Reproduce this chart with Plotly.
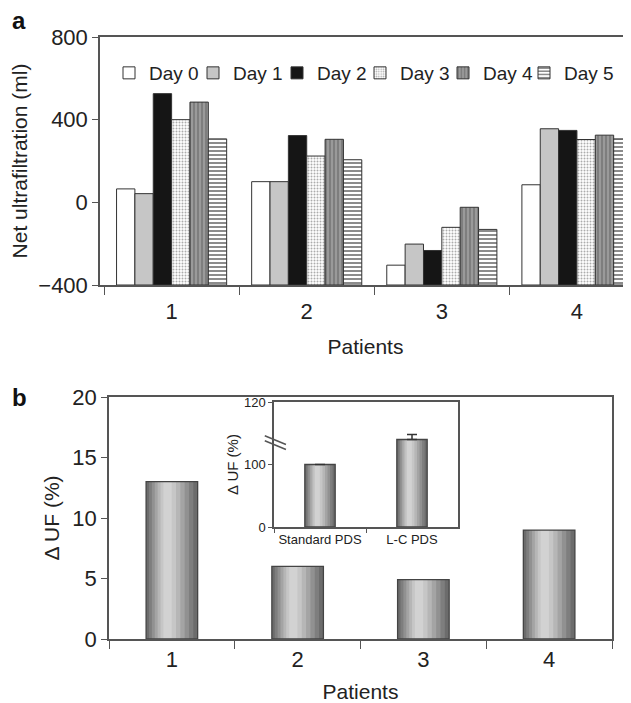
import plotly.graph_objects as go

# ---------------- data ----------------
patients = ["1", "2", "3", "4"]
day_names = ["Day 0", "Day 1", "Day 2", "Day 3", "Day 4", "Day 5"]
day0 = [65, 100, -304, 85]
day1 = [42, 100, -202, 356]
day2 = [526, 323, -233, 348]
day3 = [400, 224, -121, 304]
day4 = [485, 305, -24, 325]
day5 = [307, 206, -131, 307]
y_ticks_a = [-400, 0, 400, 800]

delta_uf = [13, 6, 4.9, 9]
y_ticks_b = [0, 5, 10, 15, 20]

inset_cats = ["Standard PDS", "L-C PDS"]
inset_vals = [100, 108]
inset_err = [0, 1.6]
inset_tickvals_real = [0, 100, 120]

# ---------------- styles ----------------
FONT = "Liberation Sans, Arial, sans-serif"
TXT = "#222222"
AX = "#555555"

day_series = [day0, day1, day2, day3, day4, day5]
day_styles = [
    dict(color="#ffffff", pattern=None),
    dict(color="#c6c6c6", pattern=None),
    dict(color="#151515", pattern=None),
    dict(color="#ffffff", pattern=dict(shape=".", fgcolor="#5a5a5a", bgcolor="#ffffff", size=3, solidity=0.35)),
    dict(color="#8c8c8c", pattern=dict(shape="|", fgcolor="#4a4a4a", bgcolor="#9a9a9a", size=4, solidity=0.35)),
    dict(color="#ffffff", pattern=dict(shape="-", fgcolor="#1a1a1a", bgcolor="#ffffff", size=4, solidity=0.5)),
]
# each legend entry sits in its own legend box (tight, unclipped spacing)
legend_ids = ["legend", "legend2", "legend3", "legend4", "legend5", "legend6"]
legend_x_px = [101, 185, 269, 352, 435, 516]

A_BASE = y_ticks_a[0]  # bars in panel a rise from the bottom of the axis


def brk(v):
    """broken-axis transform for the inset: 0-100 linear, 100-120 expanded"""
    return v if v <= 100 else 100 + (v - 100) * 5


fig = go.Figure()

# ---- panel a: grouped bars ----
for name, vals, st, lg in zip(day_names, day_series, day_styles, legend_ids):
    marker = dict(color=st["color"], line=dict(color="#333333", width=1))
    if st["pattern"] is not None:
        marker["pattern"] = st["pattern"]
    fig.add_trace(go.Bar(x=patients, y=[v - A_BASE for v in vals], base=A_BASE,
                         name=name, marker=marker, customdata=vals, legend=lg,
                         hovertemplate="%{customdata}<extra>" + name + "</extra>",
                         xaxis="x", yaxis="y", showlegend=True))

# ---- panel b: shaded (cylindrical) bars built from layered bars ----
grad_colors = ["#6c6c6c", "#7e7e7e", "#919191", "#a4a4a4", "#b6b6b6", "#c6c6c6", "#d2d2d2"]
grad_fracs = [1.0, 0.86, 0.72, 0.58, 0.44, 0.30, 0.16]


def shaded_bars(xs, ys, full_w, xa, ya, err=None):
    for c, f in zip(grad_colors, grad_fracs):
        w = full_w * f
        shift = -0.10 * full_w * (1 - f)
        fig.add_trace(go.Bar(x=xs, y=ys, width=w, offset=-w / 2 + shift,
                             marker=dict(color=c, line=dict(width=0)),
                             xaxis=xa, yaxis=ya, showlegend=False, hoverinfo="skip"))
    outline = go.Bar(x=xs, y=ys, width=full_w, offset=-full_w / 2,
                     marker=dict(color="rgba(0,0,0,0)", line=dict(color="#444444", width=1.3)),
                     xaxis=xa, yaxis=ya, showlegend=False)
    if err is not None:
        outline.error_y = dict(type="data", symmetric=False, array=err,
                               arrayminus=[0] * len(err), color="#333333",
                               thickness=1.5, width=5)
    fig.add_trace(outline)


shaded_bars(patients, delta_uf, 0.41, "x2", "y2")

inset_disp = [brk(v) for v in inset_vals]
inset_err_disp = [brk(v + e) - brk(v) for v, e in zip(inset_vals, inset_err)]
shaded_bars(inset_cats, inset_disp, 0.33, "x3", "y3", err=inset_err_disp)

# ---------------- layout ----------------
# the page body keeps an 8px margin, so the figure is 8px smaller on each
# visible side and screen positions are converted accordingly
OFF = 8
W, H = 631 - OFF, 703 - OFF


def px_x(p):
    return min(1.0, (p - OFF) / W)


def px_y(p):
    return 1 - (p - OFF) / H


axis_common = dict(showline=True, linecolor=AX, linewidth=1.5, mirror=True,
                   showgrid=False, zeroline=False, automargin=False,
                   tickcolor=AX, ticks="outside")

legend_common = dict(orientation="h", y=px_y(73), xanchor="left", yanchor="middle",
                     font=dict(size=19, family=FONT, color=TXT), bgcolor="rgba(0,0,0,0)",
                     itemwidth=30, traceorder="normal")

legend_layout = {lg: dict(legend_common, x=xp / W) for lg, xp in zip(legend_ids, legend_x_px)}

fig.update_layout(
    width=W, height=H,
    margin=dict(l=0, r=0, t=0, b=0),
    paper_bgcolor="white", plot_bgcolor="white",
    font=dict(family=FONT, color=TXT),
    barmode="group", bargap=0.185, bargroupgap=0,
    showlegend=True,
    **legend_layout,
    xaxis=dict(axis_common, domain=[px_x(100), 1.0], anchor="y", type="category",
               range=[-0.53, 3.4], tickson="boundaries", ticklen=8,
               ticklabelstandoff=6,
               tickfont=dict(size=22),
               title=dict(text="Patients", font=dict(size=21), standoff=16)),
    yaxis=dict(axis_common, domain=[px_y(285), px_y(37)], anchor="x",
               range=[y_ticks_a[0], y_ticks_a[-1]], tickvals=y_ticks_a,
               ticktext=[str(v).replace("-", "\u2212") for v in y_ticks_a], ticklen=6,
               tickfont=dict(size=22),
               title=dict(text="Net ultrafiltration (ml)", font=dict(size=21), standoff=6)),
    xaxis2=dict(axis_common, domain=[px_x(109), px_x(612)], anchor="y2", type="category",
                range=[-0.5, 3.5], tickson="boundaries", ticklen=8,
                tickfont=dict(size=22),
                title=dict(text="Patients", font=dict(size=21), standoff=15)),
    yaxis2=dict(axis_common, domain=[px_y(639), px_y(397)], anchor="x2",
                range=[y_ticks_b[0], y_ticks_b[-1]], tickvals=y_ticks_b, ticklen=6,
                tickfont=dict(size=22),
                title=dict(text="\u0394 UF (%)", font=dict(size=21), standoff=7)),
    xaxis3=dict(axis_common, domain=[px_x(274), px_x(458)], anchor="y3", type="category",
                range=[-0.5, 1.5], tickson="boundaries", ticklen=4, tickangle=0,
                tickfont=dict(size=13)),
    yaxis3=dict(axis_common, domain=[px_y(527), px_y(402)], anchor="x3",
                range=[0, brk(120)], tickvals=[brk(v) for v in inset_tickvals_real],
                ticktext=[str(v) for v in inset_tickvals_real], ticklen=4,
                tickfont=dict(size=13),
                title=dict(text="\u0394 UF (%)", font=dict(size=15), standoff=2)),
)

# axis-break marks on the inset y axis
for yy in (0, 8):
    fig.add_shape(type="line", xref="x3 domain", yref="y3",
                  x0=-0.05, x1=0.065, y0=146 - yy, y1=132 - yy,
                  line=dict(color="#555555", width=1.5))

# panel letters
fig.add_annotation(text="<b>a</b>", xref="paper", yref="paper", x=px_x(10), y=px_y(20),
                   xanchor="left", yanchor="middle", showarrow=False,
                   font=dict(size=24, family=FONT, color="#111111"))
fig.add_annotation(text="<b>b</b>", xref="paper", yref="paper", x=px_x(10), y=px_y(397),
                   xanchor="left", yanchor="middle", showarrow=False,
                   font=dict(size=24, family=FONT, color="#111111"))

fig.write_html("out.html")
